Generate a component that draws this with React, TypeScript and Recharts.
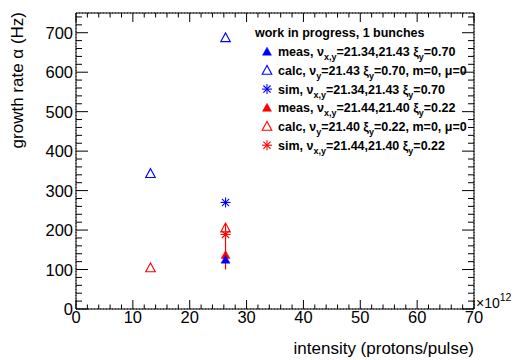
import {
  ScatterChart,
  Scatter,
  XAxis,
  YAxis,
  CartesianGrid,
  ReferenceArea,
  ErrorBar,
  Customized,
} from 'recharts';

const W = 521;
const H = 360;
const PLOT_W = 398;
const PLOT_H = 296;
const FONT = '"Liberation Sans", Arial, Helvetica, sans-serif';

// axis ticks
const xMajorTicks = [0, 10, 20, 30, 40, 50, 60, 70];
const xMinorTicks = [0, 2, 4, 6, 8, 10, 12, 14, 16, 18, 20, 22, 24, 26, 28, 30, 32, 34, 36, 38, 40, 42, 44, 46, 48, 50, 52, 54, 56, 58, 60, 62, 64, 66, 68, 70];
const yMajorTicks = [0, 100, 200, 300, 400, 500, 600, 700];
const yMinorTicks = [0, 20, 40, 60, 80, 100, 120, 140, 160, 180, 200, 220, 240, 260, 280, 300, 320, 340, 360, 380, 400, 420, 440, 460, 480, 500, 520, 540, 560, 580, 600, 620, 640, 660, 680, 700, 720, 740];

// intensity in 1e12 protons/pulse, growth rate in Hz
const blueMeasX = [26.3];
const blueMeasY = [125];
const blueCalcX = [13.1, 26.3];
const blueCalcY = [343, 687];
const blueSimX = [26.3];
const blueSimY = [270];
const redMeasX = [26.3];
const redMeasY = [137];
const redMeasErr = [[37, 81]];
const redCalcX = [13.1, 26.3];
const redCalcY = [104, 205];
const redSimX = [26.3];
const redSimY = [189];

const legendHeader = 'work in progress, 1 bunches';
const legendLabels = [
  'meas, ν_{x,y}=21.34,21.43 ξ_{y}=0.70',
  'calc, ν_{y}=21.43 ξ_{y}=0.70, m=0, μ=0',
  'sim, ν_{x,y}=21.34,21.43 ξ_{y}=0.70',
  'meas, ν_{x,y}=21.44,21.40 ξ_{y}=0.22',
  'calc, ν_{y}=21.40 ξ_{y}=0.22, m=0, μ=0',
  'sim, ν_{x,y}=21.44,21.40 ξ_{y}=0.22',
];
const legendMarkers = ['full', 'open', 'star', 'full', 'open', 'star'];
const legendColors = ['#0000ff', '#0000ff', '#0000ff', '#ff0000', '#ff0000', '#ff0000'];

const BLUE = '#0000ff';
const RED = '#ff0000';

function zip(xs: number[], ys: number[], errs?: number[][]) {
  return xs.map((x, i) => ({ x, y: ys[i], err: errs ? errs[i] : undefined }));
}

function Marker({ kind, cx, cy, color }: { kind: string; cx: number; cy: number; color: string }) {
  if (kind === 'full') {
    return (
      <polygon
        points={`${cx},${cy - 4.5} ${cx - 4.5},${cy + 3.5} ${cx + 4.5},${cy + 3.5}`}
        fill={color}
        stroke={color}
        strokeWidth={0.5}
      />
    );
  }
  if (kind === 'open') {
    return (
      <polygon
        points={`${cx},${cy - 5} ${cx - 4.8},${cy + 3.8} ${cx + 4.8},${cy + 3.8}`}
        fill="none"
        stroke={color}
        strokeWidth={1.1}
      />
    );
  }
  const d = 3.6;
  return (
    <g stroke={color} strokeWidth={1.1}>
      <line x1={cx - 5} x2={cx + 5} y1={cy} y2={cy} />
      <line x1={cx} x2={cx} y1={cy - 5} y2={cy + 5} />
      <line x1={cx - d} x2={cx + d} y1={cy - d} y2={cy + d} />
      <line x1={cx - d} x2={cx + d} y1={cy + d} y2={cy - d} />
    </g>
  );
}

const shapeOf = (kind: string, color: string) =>
  // eslint-disable-next-line @typescript-eslint/no-explicit-any
  (props: any) => <Marker kind={kind} cx={props.cx} cy={props.cy} color={color} />;

// bottom axis: inward ticks at bottom and top, labels on majors only
// eslint-disable-next-line @typescript-eslint/no-explicit-any
function XTick({ x, y, payload }: any) {
  const major = payload.value % 10 === 0;
  const len = major ? 9 : 4.5;
  return (
    <g>
      <g stroke="#000" strokeWidth={1}>
        <line x1={x} x2={x} y1={y} y2={y - len} />
        <line x1={x} x2={x} y1={y - PLOT_H} y2={y - PLOT_H + len} />
      </g>
      {major && (
        <text x={x} y={y + 14} textAnchor="middle" fontSize={16.5} fontFamily={FONT} fill="#000">
          {payload.value}
        </text>
      )}
    </g>
  );
}

// left axis: inward ticks at left and right, labels on majors only
// eslint-disable-next-line @typescript-eslint/no-explicit-any
function YTick({ x, y, payload }: any) {
  const major = payload.value % 100 === 0;
  const len = major ? 12 : 6;
  return (
    <g>
      <g stroke="#000" strokeWidth={1}>
        <line x1={x} x2={x + len} y1={y} y2={y} />
        <line x1={x + PLOT_W} x2={x + PLOT_W - len} y1={y} y2={y} />
      </g>
      {major && (
        <text x={x - 3} y={y + 6} textAnchor="end" fontSize={16.5} fontFamily={FONT} fill="#000">
          {payload.value}
        </text>
      )}
    </g>
  );
}

function RichText({ label, x, y }: { label: string; x: number; y: number }) {
  const parts = label.split(/(_\{[^}]*\})/).filter((p) => p.length > 0);
  let shifted = false;
  return (
    <text x={x} y={y} fontSize={12.5} fontWeight="bold" fontFamily={FONT} fill="#000">
      {parts.map((p, i) => {
        if (p.startsWith('_{')) {
          const dy = shifted ? 0 : 4;
          shifted = true;
          return (
            <tspan key={i} dy={dy} fontSize={9}>
              {p.slice(2, -1)}
            </tspan>
          );
        }
        const dy = shifted ? -4 : 0;
        shifted = false;
        return (
          <tspan key={i} dy={dy}>
            {p}
          </tspan>
        );
      })}
    </text>
  );
}

function Decorations() {
  return (
    <g>
      <text
        transform="translate(23, 12) rotate(-90)"
        textAnchor="end"
        fontSize={17}
        fontFamily={FONT}
        fill="#000"
      >
        growth rate α (Hz)
      </text>
      <text x={474} y={354} textAnchor="end" fontSize={17} fontFamily={FONT} fill="#000">
        intensity (protons/pulse)
      </text>
      <text x={476} y={308} fontSize={14} fontFamily={FONT} fill="#000">
        ×10
        <tspan dy={-7} fontSize={10.5}>
          12
        </tspan>
      </text>

      {/* legend, no box */}
      <text x={255} y={37} fontSize={12.5} fontWeight="bold" fontFamily={FONT} fill="#000">
        {legendHeader}
      </text>
      {legendLabels.map((label, i) => {
        const cy = 51.7 + i * 18.7;
        return (
          <g key={label}>
            <Marker kind={legendMarkers[i]} cx={267} cy={cy} color={legendColors[i]} />
            <RichText label={label} x={278} y={cy + 4.5} />
          </g>
        );
      })}
    </g>
  );
}

export default function App() {
  return (
    <div style={{ position: 'absolute', left: 0, top: 0, width: W, height: H, background: '#fff' }}>
      <ScatterChart width={W} height={H} margin={{ top: 13, right: 47, bottom: 0, left: 0 }}>
        {/* hidden axes carrying only the major ticks, for the dotted grid */}
        <XAxis xAxisId="grid" type="number" dataKey="x" domain={[0, 70]} ticks={xMajorTicks} interval={0} hide />
        <YAxis yAxisId="grid" type="number" dataKey="y" domain={[0, 750]} ticks={yMajorTicks} interval={0} hide />
        <CartesianGrid xAxisId="grid" yAxisId="grid" stroke="#000" strokeDasharray="1 2" strokeWidth={0.8} />

        <XAxis
          type="number"
          dataKey="x"
          domain={[0, 70]}
          ticks={xMinorTicks}
          interval={0}
          height={51}
          tickSize={0}
          tickMargin={0}
          tickLine={false}
          axisLine={false}
          tick={<XTick />}
        />
        <YAxis
          type="number"
          dataKey="y"
          domain={[0, 750]}
          ticks={yMinorTicks}
          interval={0}
          width={76}
          tickSize={0}
          tickMargin={0}
          tickLine={false}
          axisLine={false}
          tick={<YTick />}
        />
        <ReferenceArea x1={0} x2={70} y1={0} y2={750} fill="none" stroke="#000" strokeWidth={1} />

        <Scatter data={zip(blueCalcX, blueCalcY)} shape={shapeOf('open', BLUE)} isAnimationActive={false} />
        <Scatter data={zip(blueSimX, blueSimY)} shape={shapeOf('star', BLUE)} isAnimationActive={false} />
        <Scatter data={zip(redCalcX, redCalcY)} shape={shapeOf('open', RED)} isAnimationActive={false} />
        <Scatter data={zip(redSimX, redSimY)} shape={shapeOf('star', RED)} isAnimationActive={false} />
        <Scatter data={zip(redMeasX, redMeasY, redMeasErr)} shape={shapeOf('full', RED)} isAnimationActive={false}>
          <ErrorBar dataKey="err" direction="y" width={0} stroke={RED} strokeWidth={1.2} isAnimationActive={false} />
        </Scatter>
        <Scatter data={zip(blueMeasX, blueMeasY)} shape={shapeOf('full', BLUE)} isAnimationActive={false} />

        <Customized component={Decorations} />
      </ScatterChart>
    </div>
  );
}
